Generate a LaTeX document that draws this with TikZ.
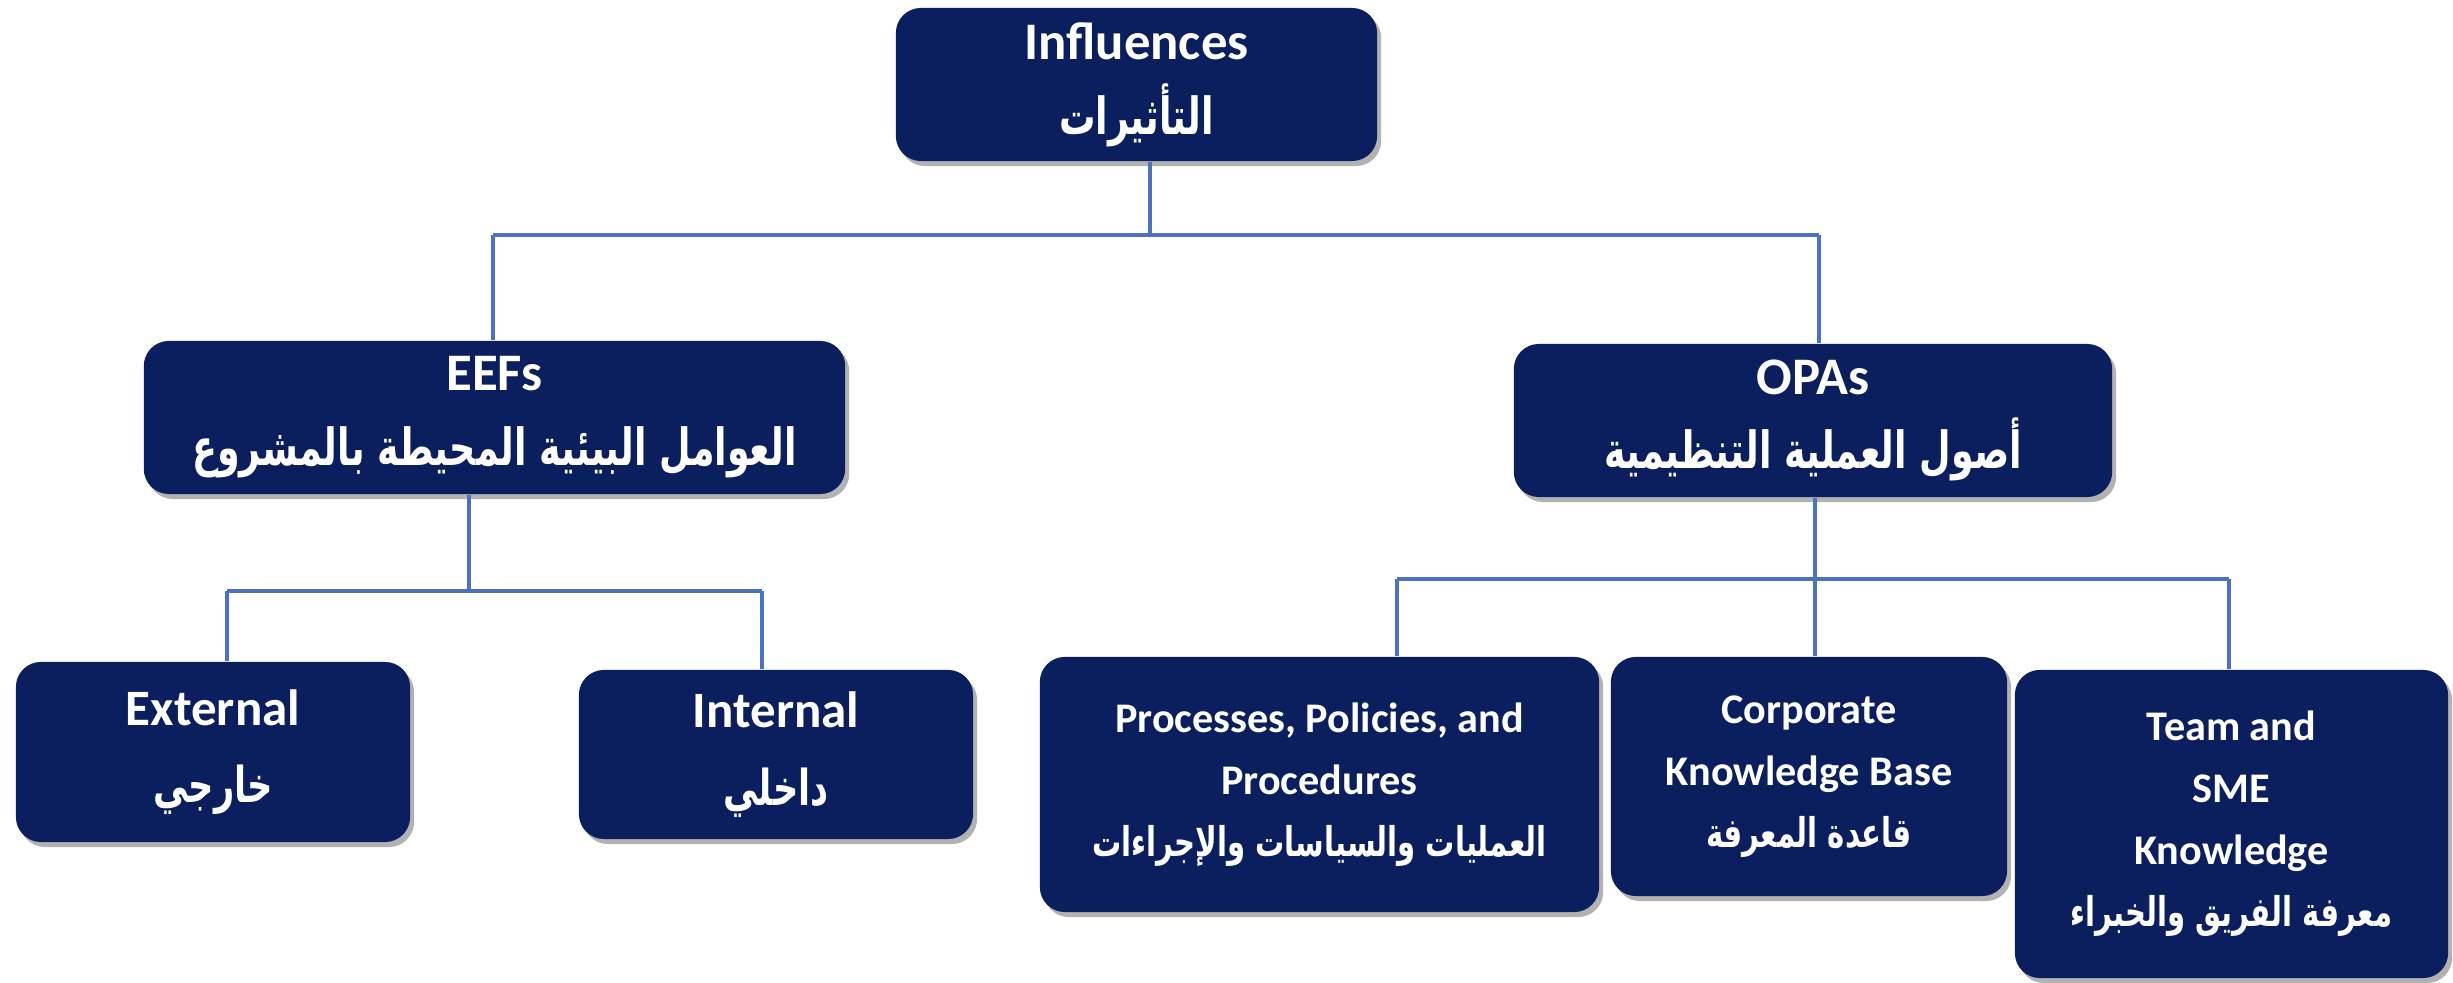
\documentclass[tikz,border=0pt]{standalone}
\usepackage{graphicx}
\usepackage{fontspec}
\setmainfont{Carlito}
\newfontfamily\arabicfont[Script=Arabic]{DejaVu Sans}
\TeXXeTstate=1
\usetikzlibrary{shadows}
\definecolor{boxnavy}{HTML}{0B1F5E}
\definecolor{linkblue}{HTML}{4A72C0}
% Arabic lines: right-to-left, slightly condensed
\newcommand\artext[1]{\scalebox{0.69}[0.97]{\arabicfont\bfseries\beginR #1\endR}}
\tikzset{
  box/.style={fill=boxnavy, rounded corners=0.25cm, text=white, align=center,
    inner sep=0pt,
    drop shadow={shadow xshift=0.04cm, shadow yshift=-0.05cm, opacity=0.3, fill=black}},
  link/.style={draw=linkblue, line width=0.04cm},
  bigtext/.style={font=\bfseries\fontsize{15}{21.3}\selectfont},
  midtext/.style={font=\bfseries\fontsize{14.5}{22}\selectfont},
  smalltext/.style={font=\bfseries\fontsize{12}{17.6}\selectfont},
}
\begin{document}
\begin{tikzpicture}[x=0.01cm, y=-0.01cm]
  \useasboundingbox (0,0) rectangle (2453,983);

  % top level
  \node[box, bigtext, minimum width=4.81cm, minimum height=1.53cm] (inf) at (1136.5,84.5)
    {Influences\\ \artext{التأثيرات}};

  % second level
  \node[box, bigtext, minimum width=7.01cm, minimum height=1.53cm] (eef) at (494.5,417.5)
    {EEFs\\ \artext{العوامل البيئية المحيطة بالمشروع}};
  \node[box, bigtext, minimum width=5.98cm, minimum height=1.53cm] (opa) at (1813,420.5)
    {OPAs\\ \artext{أصول العملية التنظيمية}};

  % third level, EEFs branch
  \node[box, midtext, minimum width=3.94cm, minimum height=1.80cm] (ext) at (213,752)
    {External\\ \artext{خارجي}};
  \node[box, midtext, minimum width=3.94cm, minimum height=1.69cm] (int) at (776,754.5)
    {Internal\\ \artext{داخلي}};

  % third level, OPAs branch
  \node[box, smalltext, minimum width=5.59cm, minimum height=2.55cm] (proc) at (1319.5,784.5)
    {Processes, Policies, and\\ Procedures\\ \artext{العمليات والسياسات والإجراءات}};
  \node[box, smalltext, minimum width=3.96cm, minimum height=2.39cm] (corp) at (1809,776.5)
    {Corporate\\ Knowledge Base\\ \artext{قاعدة المعرفة}};
  \node[box, smalltext, minimum width=4.33cm, minimum height=3.08cm] (team) at (2231.5,824)
    {Team and\\ SME\\ Knowledge\\ \artext{معرفة الفريق والخبراء}};

  % bus junctions
  \coordinate (topbus) at (1150,235);
  \coordinate (topleft) at (493,235);
  \coordinate (topright) at (1819,235);
  \coordinate (eefbus) at (469,591);
  \coordinate (eefleft) at (227,591);
  \coordinate (eefright) at (762,591);
  \coordinate (opabus) at (1815,579);
  \coordinate (opaleft) at (1397,579);
  \coordinate (oparight) at (2229,579);

  % connectors
  \draw[link] (topbus |- inf.south) -- (topbus);
  \draw[link] (topleft) -- (topright);
  \draw[link] (topleft) -- (topleft |- eef.north);
  \draw[link] (topright) -- (topright |- opa.north);

  \draw[link] (eefbus |- eef.south) -- (eefbus);
  \draw[link] (eefleft) -- (eefright);
  \draw[link] (eefleft) -- (eefleft |- ext.north);
  \draw[link] (eefright) -- (eefright |- int.north);

  \draw[link] (opabus |- opa.south) -- (opabus);
  \draw[link] (opaleft) -- (oparight);
  \draw[link] (opaleft) -- (opaleft |- proc.north);
  \draw[link] (opabus) -- (opabus |- corp.north);
  \draw[link] (oparight) -- (oparight |- team.north);
\end{tikzpicture}
\end{document}
